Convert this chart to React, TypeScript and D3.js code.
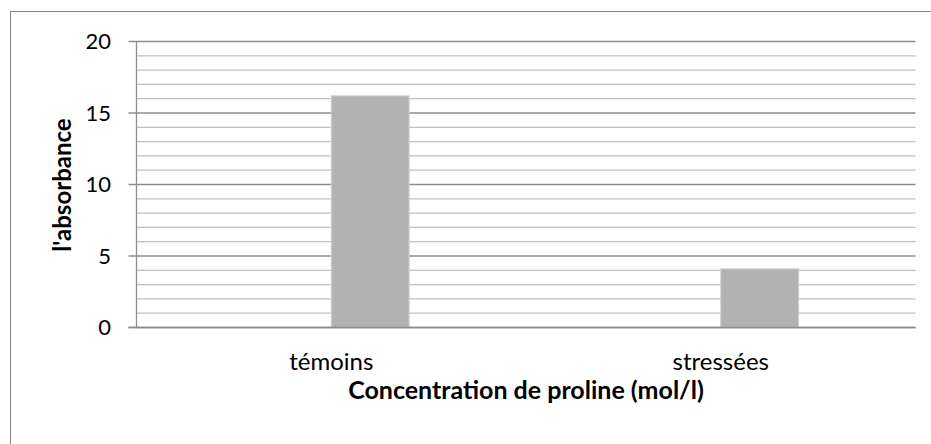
import React from "react";
import * as d3 from "d3";

const categories = ["témoins", "stressées"];
const seriesSlots = ["vide", "absorbance"];
const emptySeries: (number | null)[] = [null, null];
const absorbanceValues = [16.2, 4.1];
const majorTicks = [0, 5, 10, 15, 20];
const minorTicks = d3.range(0, 21, 1);

const W = 931;
const H = 444;
const FONT = "Lato, 'Open Sans', sans-serif";

export default function App() {
  const left = 136.5;
  const right = 915.5;
  const top = 41.5;
  const bottom = 327.5;

  const y = d3.scaleLinear().domain([0, 20]).range([bottom, top]);
  const x0 = d3.scaleBand<string>().domain(categories).range([left, right]).paddingInner(0).paddingOuter(0);
  const x1 = d3.scaleBand<string>().domain(seriesSlots).range([0, x0.bandwidth()]).paddingInner(0).paddingOuter(1.5);

  const series = [emptySeries, absorbanceValues];

  return (
    <svg width={W} height={H} style={{ position: "absolute", left: 0, top: 0, background: "#fff" }}>
      <rect x={10.5} y={11.5} width={W + 20} height={H + 20} fill="#fff" stroke="#868686" strokeWidth={1} />
      {/* minor gridlines */}
      {minorTicks.filter((t) => t % 5 !== 0).map((t) => (
        <line key={"mn" + t} x1={left} x2={right} y1={y(t)} y2={y(t)} stroke="#c0c0c0" strokeWidth={1.3} />
      ))}
      {/* major gridlines */}
      {majorTicks.map((t) => (
        <line key={"mj" + t} x1={left - 8} x2={right} y1={y(t)} y2={y(t)} stroke="#8c8c8c" strokeWidth={1.3} />
      ))}
      {/* bars */}
      {series.map((vals, si) =>
        vals.map((v, ci) =>
          v == null ? null : (
            <rect
              key={si + "-" + ci}
              x={(x0(categories[ci]) as number) + (x1(seriesSlots[si]) as number)}
              y={y(v)}
              width={x1.bandwidth()}
              height={y(0) - y(v)}
              fill="#b2b2b2"
              stroke="#d0d0d0"
              strokeWidth={1}
            />
          )
        )
      )}
      {/* axes */}
      <line x1={left} x2={left} y1={top} y2={bottom} stroke="#8c8c8c" strokeWidth={1.3} />
      <line x1={left - 8} x2={right} y1={bottom} y2={bottom} stroke="#8c8c8c" strokeWidth={1.3} />
      {/* y tick labels */}
      {majorTicks.map((t) => (
        <text key={"yl" + t} x={111} y={y(t)} dy="0.36em" textAnchor="end" fontFamily={FONT} fontSize={22} fill="#000">
          {t}
        </text>
      ))}
      {/* category labels */}
      {categories.map((c) => (
        <text key={c} x={(x0(c) as number) + x0.bandwidth() / 2} y={370} textAnchor="middle" fontFamily={FONT} fontSize={24} fill="#000">
          {c}
        </text>
      ))}
      <text x={(left + right) / 2} y={399} textAnchor="middle" fontFamily={FONT} fontSize={25} fontWeight="bold" fill="#000">
        Concentration de proline (mol/l)
      </text>
      <text transform={`translate(71,185) rotate(-90)`} textAnchor="middle" fontFamily={FONT} fontSize={24} fontWeight="bold" fill="#000">
        l'absorbance
      </text>
    </svg>
  );
}
